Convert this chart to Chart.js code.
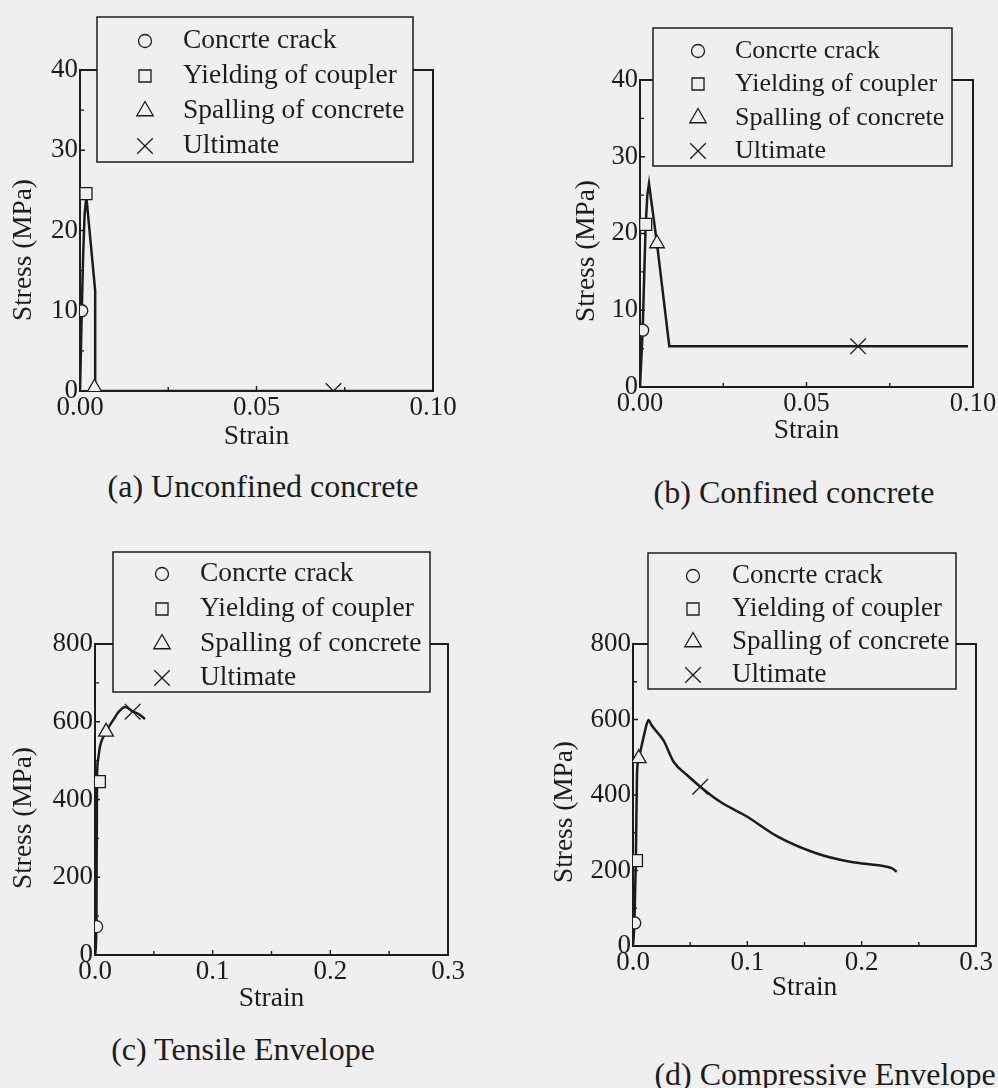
<!DOCTYPE html>
<html>
<head>
<meta charset="utf-8">
<script src="https://cdn.jsdelivr.net/npm/chart.js@4.4.1/dist/chart.umd.min.js"></script>
<style>
html, body { margin: 0; padding: 0; background: #efefef; width: 998px; height: 1088px; overflow: hidden; }
#fig { position: relative; width: 998px; height: 1088px; }
#fig canvas { position: absolute; }
.cap { position: absolute; font-family: 'Liberation Serif', 'Times New Roman', serif; font-size: 32px; line-height: 32px; color: #1c1c1c; white-space: nowrap; transform: translateX(-50%); }
</style>
</head>
<body>
<div id="fig"></div>
<script>
// ---------------- text ----------------
const panelTitles = ['(a) Unconfined concrete', '(b) Confined concrete', '(c) Tensile Envelope', '(d) Compressive Envelope'];
const eventLabels = ['Concrte crack', 'Yielding of coupler', 'Spalling of concrete', 'Ultimate'];
const xAxisTitle = 'Strain';
const yAxisTitle = 'Stress (MPa)';

// ---------------- ticks ----------------
const concreteStrainTicks = [0, 0.05, 0.10];
const concreteStrainTickLabels = ['0.00', '0.05', '0.10'];
const concreteStressTicks = [0, 10, 20, 30, 40];
const concreteStressTickLabels = ['0', '10', '20', '30', '40'];
const steelStrainTicks = [0, 0.1, 0.2, 0.3];
const steelStrainTickLabels = ['0.0', '0.1', '0.2', '0.3'];
const steelStressTicks = [0, 200, 400, 600, 800];
const steelStressTickLabels = ['0', '200', '400', '600', '800'];

// ---------------- (a) unconfined concrete ----------------
const unconfinedStrain = [0, 0.0005, 0.0009, 0.0013, 0.0018, 0.0043, 0.0043, 0.1];
const unconfinedStress = [0, 10, 17, 22, 24.2, 12.5, 0, 0];
const unconfinedEventStrain = [0.0005, 0.0017, 0.0041, 0.0718];
const unconfinedEventStress = [10, 24.6, 0.4, 0];

// ---------------- (b) confined concrete ----------------
const confinedStrain = [0, 0.0008, 0.0012, 0.0017, 0.0022, 0.0027, 0.0051, 0.0088, 0.0985];
const confinedStress = [0, 7.4, 13.5, 21.0, 25.0, 26.5, 18.7, 5.3, 5.3];
const confinedEventStrain = [0.0008, 0.0017, 0.0051, 0.0655];
const confinedEventStress = [7.4, 21.2, 18.7, 5.3];

// ---------------- (c) tensile envelope ----------------
const tensileStrain = [0, 0.0012, 0.0017, 0.0025, 0.0042, 0.0093, 0.0156, 0.020, 0.0255, 0.032, 0.037, 0.0425];
const tensileStress = [0, 73, 450, 500, 536, 574, 605, 625, 638, 627, 620, 607];
const tensileEventStrain = [0.0014, 0.0037, 0.0094, 0.032];
const tensileEventStress = [73, 446, 574, 626];

// ---------------- (d) compressive envelope ----------------
const compStrain = [0, 0.0012, 0.0025, 0.0035, 0.005, 0.0093, 0.012, 0.0137, 0.016, 0.0268, 0.0355, 0.0472, 0.0588, 0.0763, 0.0996, 0.1258, 0.1608, 0.1899, 0.2219, 0.2263, 0.2307];
const compStress = [0, 60, 228, 457, 497, 554, 588, 599, 586, 544, 488, 453, 422, 382, 343, 291, 245, 223, 210, 206, 197];
const compEventStrain = [0.0015, 0.003, 0.005, 0.0588];
const compEventStress = [61, 226, 497, 422];

// ---------------- styles ----------------
const INK = '#1c1c1c';
const PAPER = '#efefef';
const SERIF = "'Liberation Serif', 'Times New Roman', serif";
const markerStyles = ['circle', 'rect', 'triangle', 'crossRot'];
const markerRadii = [6, 8.5, 8.5, 11];
const legendMarkerRadii = [6.5, 8.5, 9.5, 11];

const panels = [
  { curve: [unconfinedStrain, unconfinedStress], events: [unconfinedEventStrain, unconfinedEventStress], smooth: false,
    xTicks: concreteStrainTicks, xLabels: concreteStrainTickLabels, yTicks: concreteStressTicks, yLabels: concreteStressTickLabels },
  { curve: [confinedStrain, confinedStress], events: [confinedEventStrain, confinedEventStress], smooth: false,
    xTicks: concreteStrainTicks, xLabels: concreteStrainTickLabels, yTicks: concreteStressTicks, yLabels: concreteStressTickLabels },
  { curve: [tensileStrain, tensileStress], events: [tensileEventStrain, tensileEventStress], smooth: true,
    xTicks: steelStrainTicks, xLabels: steelStrainTickLabels, yTicks: steelStressTicks, yLabels: steelStressTickLabels },
  { curve: [compStrain, compStress], events: [compEventStrain, compEventStress], smooth: true,
    xTicks: steelStrainTicks, xLabels: steelStrainTickLabels, yTicks: steelStressTicks, yLabels: steelStressTickLabels }
];

// layout of each panel (canvas placement and decorations, canvas coords)
const layouts = [
  { left: 0, top: 0, w: 499, h: 453, yW: 80, padTop: 70, padRight: 66, xH: 62, font: 27, yTitle: [24, 250],
    legend: { box: [97, 17, 413, 162], mx: 145, tx: 183, rows: [41, 76, 111, 146], font: 27.5 }, cap: [263, 470] },
  { left: 540, top: 0, w: 458, h: 447, yW: 100, padTop: 80, padRight: 25, xH: 60, font: 26.5, yTitle: [47, 251],
    legend: { box: [113, 28, 412, 166], mx: 158, tx: 195, rows: [51, 84, 118, 151], font: 26 }, cap: [794, 476] },
  { left: 0, top: 520, w: 499, h: 495, yW: 95, padTop: 124, padRight: 51, xH: 60, font: 27, yTitle: [24, 298],
    legend: { box: [113, 32, 430, 172], mx: 162, tx: 200, rows: [54, 89, 124, 158], font: 27.5 }, cap: [243, 1033] },
  { left: 540, top: 520, w: 458, h: 484, yW: 93, padTop: 124, padRight: 22, xH: 58, font: 27, yTitle: [25, 292],
    legend: { box: [108, 33, 416, 169], mx: 153, tx: 192, rows: [56, 89, 122, 155], font: 27 }, cap: [825, 1058] }
];

function drawMarker(ctx, style, radius, x, y) {
  if (window.Chart && Chart.helpers && Chart.helpers.drawPoint) {
    Chart.helpers.drawPoint(ctx, { pointStyle: style, rotation: 0, radius: radius, borderWidth: ctx.lineWidth }, x, y);
    return;
  }
  ctx.beginPath();
  if (style === 'circle') { ctx.arc(x, y, radius, 0, Math.PI * 2); ctx.fill(); ctx.stroke(); }
  else if (style === 'rect') { const s = radius * Math.SQRT1_2; ctx.rect(x - s, y - s, 2 * s, 2 * s); ctx.fill(); ctx.stroke(); }
  else if (style === 'triangle') {
    for (let i = 0; i < 3; i++) { const a = -Math.PI / 2 + i * 2 * Math.PI / 3; const px = x + Math.cos(a) * radius, py = y + Math.sin(a) * radius; i ? ctx.lineTo(px, py) : ctx.moveTo(px, py); }
    ctx.closePath(); ctx.fill(); ctx.stroke();
  } else { const o = radius * Math.SQRT1_2; ctx.moveTo(x - o, y - o); ctx.lineTo(x + o, y + o); ctx.moveTo(x - o, y + o); ctx.lineTo(x + o, y - o); ctx.stroke(); }
}

const paperFrame = {
  id: 'paperFrame',
  beforeDatasetsDraw(chart, args, o) {
    const { ctx, chartArea: a } = chart;
    const xs = chart.scales.x, ys = chart.scales.y;
    ctx.save();
    ctx.strokeStyle = INK;
    ctx.lineWidth = 2;
    ctx.strokeRect(a.left, a.top, a.right - a.left, a.bottom - a.top);
    ctx.lineWidth = 1.4;
    ctx.beginPath();
    const major = 5, minor = 4;
    o.xTicks.forEach((v, i) => {
      const px = xs.getPixelForValue(v);
      ctx.moveTo(px, a.bottom); ctx.lineTo(px, a.bottom - major);
      if (i < o.xTicks.length - 1) {
        const m = xs.getPixelForValue((v + o.xTicks[i + 1]) / 2);
        ctx.moveTo(m, a.bottom); ctx.lineTo(m, a.bottom - minor);
      }
    });
    o.yTicks.forEach((v, i) => {
      const py = ys.getPixelForValue(v);
      ctx.moveTo(a.left, py); ctx.lineTo(a.left + major, py);
      if (i < o.yTicks.length - 1) {
        const m = ys.getPixelForValue((v + o.yTicks[i + 1]) / 2);
        ctx.moveTo(a.left, m); ctx.lineTo(a.left + minor, m);
      }
    });
    ctx.stroke();
    ctx.restore();
  },
  afterDraw(chart, args, o) {
    const ctx = chart.ctx;
    // y axis title
    ctx.save();
    ctx.fillStyle = INK;
    ctx.font = o.titleSize + 'px ' + SERIF;
    ctx.translate(o.yTitle[0], o.yTitle[1]);
    ctx.rotate(-Math.PI / 2);
    ctx.textAlign = 'center';
    ctx.textBaseline = 'middle';
    ctx.fillText(o.yTitleText, 0, 0);
    ctx.restore();
    // legend box
    const lg = o.legend;
    const [x0, y0, x1, y1] = lg.box;
    ctx.save();
    ctx.fillStyle = PAPER;
    ctx.fillRect(x0, y0, x1 - x0, y1 - y0);
    ctx.strokeStyle = INK;
    ctx.lineWidth = 1.5;
    ctx.strokeRect(x0, y0, x1 - x0, y1 - y0);
    const evs = chart.data.datasets.filter(d => d.isEvent);
    evs.forEach((d, k) => {
      const yy = lg.rows[k];
      ctx.fillStyle = PAPER;
      ctx.strokeStyle = INK;
      ctx.lineWidth = 1.3;
      drawMarker(ctx, d.pointStyle, legendMarkerRadii[k], lg.mx, yy);
      ctx.fillStyle = INK;
      ctx.font = lg.font + 'px ' + SERIF;
      ctx.textAlign = 'left';
      ctx.textBaseline = 'middle';
      ctx.fillText(d.label, lg.tx, yy);
    });
    ctx.restore();
  }
};

const fig = document.getElementById('fig');

panels.forEach((p, i) => {
  const L = layouts[i];
  const cv = document.createElement('canvas');
  cv.width = L.w; cv.height = L.h;
  cv.style.left = L.left + 'px'; cv.style.top = L.top + 'px';
  cv.style.width = L.w + 'px'; cv.style.height = L.h + 'px';
  fig.appendChild(cv);

  const cap = document.createElement('div');
  cap.className = 'cap';
  cap.style.left = L.cap[0] + 'px';
  cap.style.top = L.cap[1] + 'px';
  cap.textContent = panelTitles[i];
  fig.appendChild(cap);

  const curveSet = {
    label: 'Envelope',
    data: p.curve[0].map((x, k) => ({ x: x, y: p.curve[1][k] })),
    showLine: true, borderColor: INK, borderWidth: 2.5, pointRadius: 0, fill: false, tension: 0, order: 10
  };
  if (p.smooth) { curveSet.cubicInterpolationMode = 'monotone'; }
  const datasets = [curveSet];
  eventLabels.forEach((lab, k) => {
    datasets.push({
      label: lab, isEvent: true,
      data: [{ x: p.events[0][k], y: p.events[1][k] }],
      showLine: false, pointStyle: markerStyles[k], pointRadius: markerRadii[k],
      pointBackgroundColor: PAPER, pointBorderColor: INK, pointBorderWidth: 1.3, order: 1
    });
  });

  new Chart(cv, {
    type: 'scatter',
    data: { datasets: datasets },
    options: {
      responsive: false, animation: false, events: [],
      layout: { padding: { left: 0, top: L.padTop, right: L.padRight, bottom: 0 } },
      scales: {
        x: {
          type: 'linear', min: p.xTicks[0], max: p.xTicks[p.xTicks.length - 1],
          afterBuildTicks: s => { s.ticks = p.xTicks.map(v => ({ value: v })); },
          afterFit: s => { s.height = L.xH; },
          ticks: { callback: (v, idx) => p.xLabels[idx], color: INK, font: { family: SERIF, size: L.font }, padding: 1, maxRotation: 0, autoSkip: false },
          grid: { display: false, drawTicks: false },
          border: { display: true, color: INK, width: 2 },
          title: { display: true, text: xAxisTitle, color: INK, font: { family: SERIF, size: 27.5 }, padding: { top: 0, bottom: 0 } }
        },
        y: {
          type: 'linear', min: p.yTicks[0], max: p.yTicks[p.yTicks.length - 1],
          afterBuildTicks: s => { s.ticks = p.yTicks.map(v => ({ value: v })); },
          afterFit: s => { s.width = L.yW; },
          ticks: { callback: (v, idx) => p.yLabels[idx], color: INK, font: { family: SERIF, size: L.font }, padding: 2, autoSkip: false },
          grid: { display: false, drawTicks: false },
          border: { display: true, color: INK, width: 2 },
          title: { display: false }
        }
      },
      plugins: {
        legend: { display: false },
        tooltip: { enabled: false },
        paperFrame: {
          xTicks: p.xTicks, yTicks: p.yTicks, yTitle: L.yTitle, yTitleText: yAxisTitle,
          titleSize: 27.3, legend: L.legend
        }
      }
    },
    plugins: [paperFrame]
  });
});
</script>
</body>
</html>
